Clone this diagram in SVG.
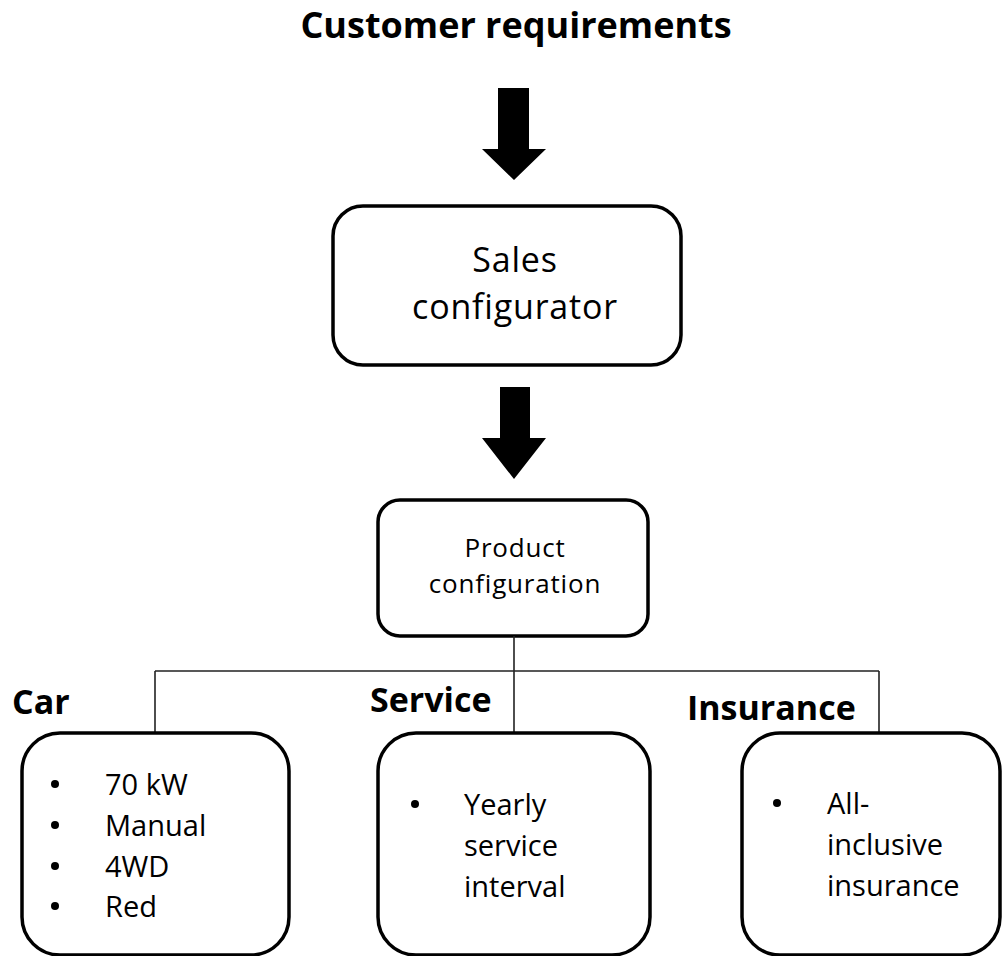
<svg xmlns="http://www.w3.org/2000/svg" width="1002" height="956" viewBox="0 0 1002 956">
  <style>
    text { font-family: "Open Sans", "Noto Sans", "DejaVu Sans", sans-serif; fill: #000; }
    .title { font-weight: bold; font-size: 36px; text-anchor: middle; }
    .label { font-weight: bold; font-size: 34px; }
    .big { font-size: 34px; letter-spacing: 0.8px; text-anchor: middle; }
    .mid { font-size: 26px; letter-spacing: 0.8px; text-anchor: middle; }
    .item { font-size: 29px; }
    .box { fill: #fff; stroke: #000; stroke-width: 3.5; }
    .link { fill: none; stroke: #222; stroke-width: 1.6; }
    .arrow { fill: #000; }
    .dot { fill: #000; }
  </style>

  <!-- heading -->
  <g id="customer-requirements">
    <text class="title" x="516" y="38">Customer requirements</text>
  </g>

  <!-- block arrows -->
  <g id="flow-arrows">
    <polygon class="arrow" points="498,88 529,88 529,149 546,149 514,180 482,149 498,149"/>
    <polygon class="arrow" points="500,387 530,387 530,438 546,438 514,479 482,438 500,438"/>
  </g>

  <g id="sales-configurator">
    <rect class="box" x="333" y="206" width="348" height="159" rx="30" ry="30"/>
    <text class="big" x="515" y="272">Sales</text>
    <text class="big" x="515" y="319">configurator</text>
  </g>

  <g id="product-configuration">
    <rect class="box" x="378" y="500" width="270" height="136" rx="22" ry="22"/>
    <text class="mid" x="515" y="557">Product</text>
    <text class="mid" x="515" y="593">configuration</text>
  </g>

  <!-- tree connectors -->
  <g id="connectors">
    <path class="link" d="M514,636 V671 M155,671 H879 M155,671 V733 M514,671 V733 M879,671 V733"/>
  </g>

  <g id="car">
    <text class="label" x="12" y="714">Car</text>
    <rect class="box" x="22" y="733" width="267" height="222" rx="38" ry="38"/>
    <circle class="dot" cx="55" cy="784" r="4"/>
    <circle class="dot" cx="55" cy="825" r="4"/>
    <circle class="dot" cx="55" cy="866" r="4"/>
    <circle class="dot" cx="55" cy="906" r="4"/>
    <text class="item" x="105" y="795">70 kW</text>
    <text class="item" x="105" y="836">Manual</text>
    <text class="item" x="105" y="877">4WD</text>
    <text class="item" x="105" y="917">Red</text>
  </g>

  <g id="service">
    <text class="label" x="370" y="712">Service</text>
    <rect class="box" x="378" y="733" width="272" height="222" rx="38" ry="38"/>
    <circle class="dot" cx="415" cy="804" r="4"/>
    <text class="item" x="464" y="815">Yearly</text>
    <text class="item" x="464" y="856">service</text>
    <text class="item" x="464" y="897">interval</text>
  </g>

  <g id="insurance">
    <text class="label" x="687" y="720">Insurance</text>
    <rect class="box" x="742" y="733" width="258" height="222" rx="38" ry="38"/>
    <circle class="dot" cx="777" cy="803" r="4"/>
    <text class="item" x="827" y="814">All-</text>
    <text class="item" x="827" y="855">inclusive</text>
    <text class="item" x="827" y="896">insurance</text>
  </g>
</svg>
